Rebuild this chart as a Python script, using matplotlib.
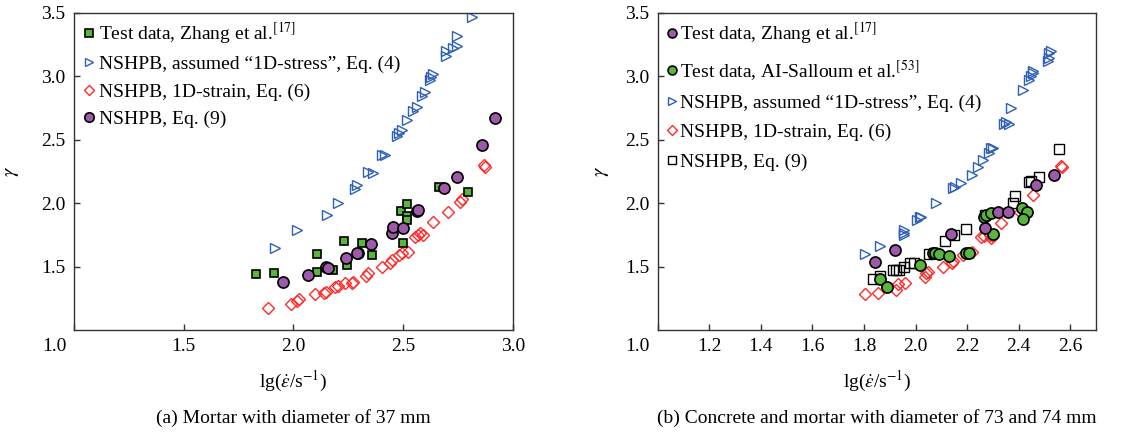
import matplotlib
matplotlib.use("Agg")
import matplotlib.pyplot as plt
import matplotlib.transforms as mtransforms

plt.rcParams['font.family'] = ['Liberation Serif', 'DejaVu Serif']
plt.rcParams['mathtext.fontset'] = 'stix'
plt.rcParams['font.size'] = 14

# ---------------- panel (a): mortar, 37 mm ----------------
a_test_x = [1.828, 1.909, 2.109, 2.109, 2.182, 2.231, 2.246, 2.311, 2.360, 2.498,
            2.489, 2.516, 2.519, 2.519, 2.661, 2.797]
a_test_y = [1.442, 1.447, 1.599, 1.460, 1.473, 1.704, 1.513, 1.689, 1.591, 1.684,
            1.941, 1.994, 1.899, 1.868, 2.130, 2.091]

a_stress_x = [1.916, 2.015, 2.152, 2.205, 2.281, 2.288, 2.341, 2.361, 2.402, 2.417,
              2.471, 2.483, 2.494, 2.516, 2.544, 2.562, 2.585, 2.600, 2.620, 2.626,
              2.635, 2.696, 2.696, 2.729, 2.744, 2.744, 2.813]
a_stress_y = [1.644, 1.789, 1.907, 1.999, 2.110, 2.144, 2.248, 2.236, 2.380, 2.380,
              2.530, 2.551, 2.577, 2.656, 2.722, 2.756, 2.840, 2.879, 2.972, 2.993,
              3.019, 3.155, 3.195, 3.222, 3.240, 3.319, 3.466]

a_strain_x = [1.886, 1.988, 2.015, 2.027, 2.098, 2.139, 2.149, 2.190, 2.205, 2.235,
              2.266, 2.273, 2.331, 2.341, 2.402, 2.440, 2.448, 2.483, 2.494, 2.524,
              2.554, 2.569, 2.577, 2.592, 2.635, 2.706, 2.759, 2.767, 2.866, 2.873]
a_strain_y = [1.171, 1.205, 1.231, 1.242, 1.284, 1.289, 1.302, 1.337, 1.347, 1.373,
              1.373, 1.381, 1.426, 1.447, 1.499, 1.531, 1.552, 1.591, 1.605, 1.618,
              1.731, 1.749, 1.763, 1.749, 1.854, 1.933, 2.012, 2.031, 2.301, 2.288]

a_eq9_x = [1.951, 2.068, 2.149, 2.159, 2.240, 2.296, 2.288, 2.352, 2.448, 2.455,
           2.498, 2.565, 2.569, 2.686, 2.744, 2.858, 2.919]
a_eq9_y = [1.381, 1.434, 1.499, 1.486, 1.565, 1.610, 1.605, 1.678, 1.763, 1.810,
           1.802, 1.941, 1.946, 2.117, 2.204, 2.459, 2.670]

# ---------------- panel (b): concrete and mortar, 73/74 mm ----------------
b_zhang_x = [1.841, 1.919, 2.138, 2.271, 2.319, 2.357, 2.467, 2.538]
b_zhang_y = [1.539, 1.631, 1.757, 1.802, 1.933, 1.933, 2.144, 2.222]

b_salloum_x = [1.861, 1.889, 2.016, 2.067, 2.077, 2.093, 2.129, 2.196, 2.206, 2.267,
               2.274, 2.293, 2.299, 2.413, 2.431, 2.415]
b_salloum_y = [1.400, 1.341, 1.513, 1.610, 1.610, 1.599, 1.584, 1.605, 1.610, 1.889,
               1.907, 1.920, 1.757, 1.959, 1.933, 1.873]

b_stress_x = [1.803, 1.863, 1.954, 1.957, 1.954, 2.005, 2.016, 2.022, 2.080, 2.147,
              2.155, 2.177, 2.219, 2.241, 2.263, 2.284, 2.293, 2.302, 2.345, 2.351,
              2.361, 2.370, 2.416, 2.441, 2.448, 2.454, 2.457, 2.512, 2.516, 2.519,
              2.525]
b_stress_y = [1.599, 1.662, 1.789, 1.763, 1.749, 1.868, 1.894, 1.889, 1.999, 2.117,
              2.125, 2.157, 2.222, 2.286, 2.341, 2.393, 2.433, 2.433, 2.625, 2.635,
              2.625, 2.748, 2.893, 2.972, 2.998, 3.024, 3.037, 3.116, 3.143, 3.182,
              3.195]

b_strain_x = [1.803, 1.854, 1.889, 1.923, 1.932, 1.961, 2.035, 2.041, 2.048, 2.106,
              2.142, 2.147, 2.183, 2.206, 2.219, 2.254, 2.267, 2.289, 2.299, 2.293,
              2.332, 2.405, 2.457, 2.564, 2.568]
b_strain_y = [1.284, 1.289, 1.341, 1.315, 1.363, 1.368, 1.420, 1.447, 1.460, 1.499,
              1.526, 1.546, 1.591, 1.610, 1.618, 1.731, 1.741, 1.749, 1.741, 1.723,
              1.846, 1.933, 2.065, 2.293, 2.288]

b_eq9_x = [1.837, 1.861, 1.912, 1.925, 1.935, 1.954, 1.979, 1.996, 2.052, 2.070,
           2.116, 2.151, 2.194, 2.271, 2.377, 2.387, 2.439, 2.449, 2.477, 2.558]
b_eq9_y = [1.400, 1.426, 1.473, 1.473, 1.473, 1.494, 1.531, 1.531, 1.599, 1.610,
           1.704, 1.749, 1.794, 1.907, 2.004, 2.057, 2.170, 2.175, 2.209, 2.426]

GREEN = '#5bb53c'
PURPLE = '#9c5aa8'
BLUE = '#2f60b8'
RED = '#ff2b2b'

lbl_zhang = 'Test data, Zhang et al.$^{[17]}$'
lbl_salloum = 'Test data, AI-Salloum et al.$^{[53]}$'
lbl_stress = 'NSHPB, assumed \u201c1D-stress\u201d, Eq. (4)'
lbl_strain = 'NSHPB, 1D-strain, Eq. (6)'
lbl_eq9 = 'NSHPB, Eq. (9)'

fig = plt.figure(figsize=(11.21, 4.32), dpi=100)
ax1 = fig.add_axes([0.0660, 0.2361, 0.3916, 0.7345])
ax2 = fig.add_axes([0.5867, 0.2361, 0.3910, 0.7345])

# panel (a)
ax1.plot(a_strain_x, a_strain_y, 'D', ms=6, mfc='none', mec=RED, mew=1.0, label=lbl_strain, zorder=2)
ax1.plot(a_stress_x, a_stress_y, '>', ms=7.5, mfc='none', mec=BLUE, mew=1.0, label=lbl_stress, zorder=2)
ax1.plot(a_test_x, a_test_y, 's', ms=6, mfc=GREEN, mec='black', mew=1.2, label=lbl_zhang, zorder=3)
ax1.plot(a_eq9_x, a_eq9_y, 'o', ms=8, mfc=PURPLE, mec='black', mew=1.2, label=lbl_eq9, zorder=4)

h, l = ax1.get_legend_handles_labels()
order = [2, 1, 0, 3]
ax1.legend([h[i] for i in order], [l[i] for i in order], loc='upper left',
           bbox_to_anchor=(-0.01, 1.02), frameon=False, handlelength=0.6,
           handletextpad=0.2, labelspacing=0.5, borderaxespad=0.3,
           markerscale=0.85, fontsize=14)

ax1.set_xlim(1.0, 3.0)
ax1.set_xticks([1.0, 1.5, 2.0, 2.5, 3.0])

# panel (b)
ax2.plot(b_strain_x, b_strain_y, 'D', ms=6, mfc='none', mec=RED, mew=1.0, label=lbl_strain, zorder=2)
ax2.plot(b_stress_x, b_stress_y, '>', ms=7.5, mfc='none', mec=BLUE, mew=1.0, label=lbl_stress, zorder=2)
ax2.plot(b_eq9_x, b_eq9_y, 's', ms=6.5, mfc='none', mec='black', mew=1.0, label=lbl_eq9, zorder=3)
ax2.plot(b_salloum_x, b_salloum_y, 'o', ms=8, mfc=GREEN, mec='black', mew=1.2, label=lbl_salloum, zorder=4)
ax2.plot(b_zhang_x, b_zhang_y, 'o', ms=8, mfc=PURPLE, mec='black', mew=1.2, label=lbl_zhang, zorder=4)

h, l = ax2.get_legend_handles_labels()
order = [4, 3, 1, 0, 2]
ax2.legend([h[i] for i in order], [l[i] for i in order], loc='upper left',
           bbox_to_anchor=(-0.012, 1.02), frameon=False, handlelength=0.6,
           handletextpad=0.1, labelspacing=0.6, borderaxespad=0.3,
           markerscale=0.8, fontsize=14)

ax2.set_xlim(1.0, 2.7)
ax2.set_xticks([1.0, 1.2, 1.4, 1.6, 1.8, 2.0, 2.2, 2.4, 2.6])

shift = mtransforms.ScaledTranslation(-0.20, 0, fig.dpi_scale_trans)
for ax, lx in ((ax1, -0.120), (ax2, -0.106)):
    ax.set_ylim(1.0, 3.5)
    ax.set_yticks([1.5, 2.0, 2.5, 3.0, 3.5])
    ax.set_xlabel(r'lg($\dot{\varepsilon}$/s$^{-1}$)', fontsize=14, labelpad=10)
    ax.set_ylabel(r'$\gamma$', fontsize=15)
    ax.yaxis.set_label_coords(lx, 0.5)
    ax.tick_params(direction='in', length=4, width=1, color='#333333',
                   labelsize=14, top=False, right=False, pad=6)
    for sp in ax.spines.values():
        sp.set_color('#333333')
        sp.set_linewidth(1.0)
    xl = ax.get_xticklabels()
    xl[0].set_transform(xl[0].get_transform() + shift)

fig.text(0.2616, 0.033, '(a) Mortar with diameter of 37 mm', ha='center', va='center', fontsize=14)
fig.text(0.7822, 0.033, '(b) Concrete and mortar with diameter of 73 and 74 mm', ha='center', va='center', fontsize=14)

fig.savefig('out.png', dpi=100)
